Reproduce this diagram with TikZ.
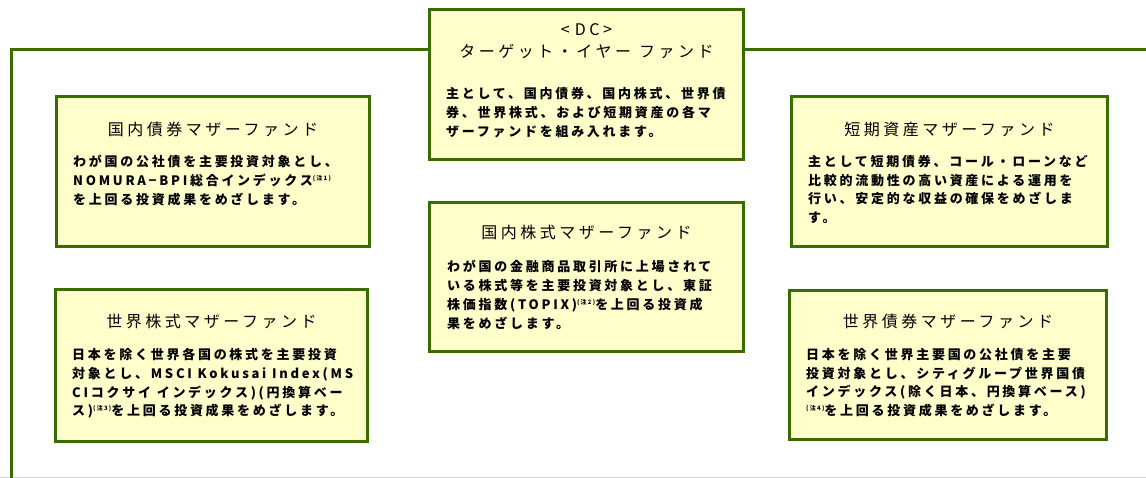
\documentclass[tikz,border=0pt]{standalone}
\usepackage{fontspec}
\newfontfamily\jptitle{Noto Sans CJK JP}[LetterSpace=22]
\newfontfamily\jpbody{Noto Sans CJK JP}[LetterSpace=21]
\definecolor{boxgreen}{RGB}{58,108,0}
\definecolor{boxfill}{RGB}{255,255,204}
\tikzset{
  fundbox/.style={draw=boxgreen, line width=3pt, fill=boxfill, inner sep=0pt, anchor=north west},
  titletext/.style={inner sep=0pt, font=\jptitle\fontsize{16}{21}\selectfont},
  bodytext/.style={inner sep=0pt, anchor=north west, align=left, font=\jpbody\bfseries\fontsize{13}{18.8}\selectfont},
  frame/.style={draw=boxgreen, line width=3pt}
}
\newcommand{\chu}[1]{\raisebox{5pt}{\fontsize{6}{6}\selectfont (注#1)}}
\begin{document}
\begin{tikzpicture}[x=1pt,y=-1pt]
\useasboundingbox (0,0) rectangle (1146,478);
\draw[gray!35, line width=1pt] (0,477) -- (1146,477);
% outer frame
\coordinate (fl) at (11.5,50);
\coordinate (fb) at (11.5,478);
\coordinate (fr) at (1146,50);
% boxes
\node[fundbox, minimum width=314pt, minimum height=150pt] (dc) at (428,8) {};
\node[fundbox, minimum width=313pt, minimum height=150pt] (b1) at (55,95) {};
\node[fundbox, minimum width=312pt, minimum height=152pt] (b2) at (54,288) {};
\node[fundbox, minimum width=314pt, minimum height=149pt] (b3) at (428,201) {};
\node[fundbox, minimum width=316pt, minimum height=150pt] (b4) at (790,95) {};
\node[fundbox, minimum width=317pt, minimum height=149pt] (b5) at (788,289) {};
\draw[frame] (dc.west |- fl) -- (fl) -- (fb);
\draw[frame] (dc.east |- fr) -- (fr);
% DC box
\node[titletext] (dct1) at ([yshift=-22pt]dc.north) {<\kern5pt DC>};
\node[titletext] (dct2) at ([yshift=-43pt]dc.north) {ターゲット・イヤー\hspace{8pt}ファンド};
\node[bodytext] (dcb) at ([xshift=18pt,yshift=-79.5pt]dc.north west) {主として、国内債券、国内株式、世界債\\券、世界株式、および短期資産の各マ\\ザーファンドを組み入れます。};
% box 1
\node[titletext] (t1) at ([yshift=-34pt]b1.north) {国内債券マザーファンド};
\node[bodytext] (d1) at ([xshift=18pt,yshift=-60pt]b1.north west) {わが国の公社債を主要投資対象とし、\\NOMURA−BPI総合インデックス\chu{1}\\を上回る投資成果をめざします。};
% box 2
\node[titletext] (t2) at ([yshift=-33pt]b2.north) {世界株式マザーファンド};
\node[bodytext] (d2) at ([xshift=18pt,yshift=-60pt]b2.north west) {日本を除く世界各国の株式を主要投資\\対象とし、MSCI Kokusai Index(MS\\CIコクサイ インデックス)(円換算ベー\\ス)\chu{3}を上回る投資成果をめざします。};
% box 3
\node[titletext] (t3) at ([yshift=-31pt]b3.north) {国内株式マザーファンド};
\node[bodytext] (d3) at ([xshift=19pt,yshift=-59pt]b3.north west) {わが国の金融商品取引所に上場されて\\いる株式等を主要投資対象とし、東証\\株価指数(TOPIX)\chu{2}を上回る投資成\\果をめざします。};
% box 4
\node[titletext] (t4) at ([yshift=-34pt]b4.north) {短期資産マザーファンド};
\node[bodytext] (d4) at ([xshift=18pt,yshift=-60pt]b4.north west) {主として短期債券、コール・ローンなど\\比較的流動性の高い資産による運用を\\行い、安定的な収益の確保をめざしま\\す。};
% box 5
\node[titletext] (t5) at ([yshift=-32pt]b5.north) {世界債券マザーファンド};
\node[bodytext] (d5) at ([xshift=18pt,yshift=-59pt]b5.north west) {日本を除く世界主要国の公社債を主要\\投資対象とし、シティグループ世界国債\\インデックス(除く日本、円換算ベース)\\\chu{4}を上回る投資成果をめざします。};
\end{tikzpicture}
\end{document}
